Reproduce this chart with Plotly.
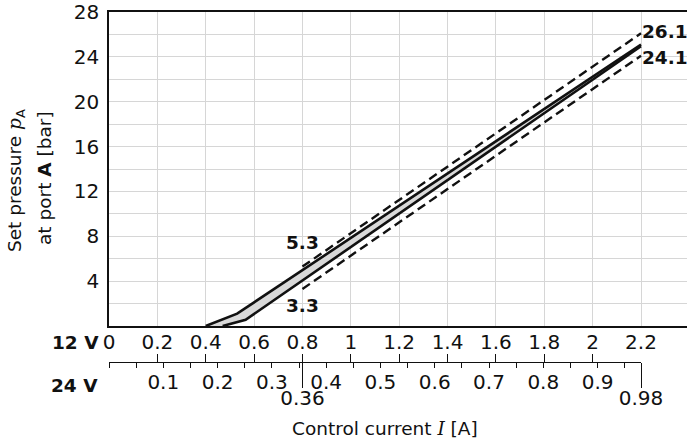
import plotly.graph_objects as go

# ---------------- data ----------------
x12_tickvals = [0, 0.2, 0.4, 0.6, 0.8, 1.0, 1.2, 1.4, 1.6, 1.8, 2.0, 2.2]
x12_ticktext = ["0", "0.2", "0.4", "0.6", "0.8", "1", "1.2", "1.4", "1.6", "1.8", "2", "2.2"]
x12_upticks = [0.2, 0.4, 0.6, 0.8, 1.0, 1.2, 1.4, 1.6, 1.8, 2.0, 2.2]
x24_tickvals = [0.1, 0.2, 0.3, 0.4, 0.5, 0.6, 0.7, 0.8, 0.9]
x24_ticktext = ["0.1", "0.2", "0.3", "0.4", "0.5", "0.6", "0.7", "0.8", "0.9"]
x24_minor_step = 0.05
x24_max = 0.98
long_tick_pos = [0.8, 2.2]
long_tick_text = ["0.36", "0.98"]
y_tickvals = [4, 8, 12, 16, 20, 24, 28]

band_upper_x = [0.40, 0.53, 2.2]
band_upper_y = [0.0, 1.1, 25.1]
band_lower_x = [0.47, 0.565, 2.2]
band_lower_y = [0.0, 0.55, 24.95]

tol_x = [0.8, 2.2]
tol_upper_y = [5.3, 26.1]
tol_lower_y = [3.3, 24.1]

# ---------------- geometry ----------------
W, H = 687, 442
L, T, R, B = 109, 12, 0, 0
PW, PH = W - L - R, H - T - B
px_per_A = 532 / 2.2
x_max = PW / px_per_A
main_y0 = (H - B - 326) / PH
scale_pos = (H - B - 361.7) / PH
sub_dom = 532 / PW

FONT = "DejaVu Sans"
BLACK = "#111111"
GRID = "#d6d6d6"

fig = go.Figure()

# grey band between the two characteristic lines
fig.add_trace(go.Scatter(
    x=band_upper_x + band_lower_x[::-1],
    y=band_upper_y + band_lower_y[::-1],
    fill="toself", fillcolor="#d9d9d9", mode="none",
    showlegend=False, hoverinfo="skip"))
fig.add_trace(go.Scatter(x=band_upper_x, y=band_upper_y, mode="lines",
                         line=dict(color=BLACK, width=2.6), showlegend=False))
fig.add_trace(go.Scatter(x=band_lower_x, y=band_lower_y, mode="lines",
                         line=dict(color=BLACK, width=2.6), showlegend=False))
fig.add_trace(go.Scatter(x=tol_x, y=tol_upper_y, mode="lines",
                         line=dict(color=BLACK, width=2.4, dash="9px,5px"),
                         showlegend=False))
fig.add_trace(go.Scatter(x=tol_x, y=tol_lower_y, mode="lines",
                         line=dict(color=BLACK, width=2.4, dash="9px,5px"),
                         showlegend=False))

# dummy traces so that the scale axes are drawn
for ax in ["x2", "x3", "x4"]:
    fig.add_trace(go.Scatter(x=[], y=[], xaxis=ax, yaxis="y2",
                             showlegend=False, hoverinfo="skip"))

tickfont = dict(family=FONT, size=20, color=BLACK)

fig.update_layout(
    width=W, height=H,
    margin=dict(l=L, r=R, t=T, b=B),
    paper_bgcolor="white", plot_bgcolor="white",
    showlegend=False,
    xaxis=dict(
        domain=[0, 1], range=[0, x_max], anchor="y",
        tickmode="array", tickvals=x12_tickvals, ticktext=x12_ticktext,
        ticks="", tickfont=tickfont, ticklabelstandoff=-3,
        showgrid=True, gridcolor=GRID, gridwidth=1,
        showline=True, linecolor=BLACK, linewidth=1.5, mirror=True,
        zeroline=False, automargin=False, ticklabeloverflow="allow"),
    yaxis=dict(
        domain=[main_y0, 1], range=[0, 28], anchor="x",
        tickmode="array", tickvals=y_tickvals,
        ticks="", tickfont=tickfont, ticklabelstandoff=4,
        showgrid=True, gridcolor=GRID, gridwidth=1,
        minor=dict(tick0=0, dtick=2, showgrid=True, gridcolor=GRID, gridwidth=1),
        showline=True, linecolor=BLACK, linewidth=1.5,
        zeroline=False, automargin=False, ticklabeloverflow="allow"),
    yaxis2=dict(domain=[0, 0.01], range=[0, 1], visible=False, anchor="x2"),
    # 12 V scale line with upward ticks
    xaxis2=dict(
        domain=[0, sub_dom], range=[0, 2.2], anchor="free", position=scale_pos,
        tickmode="array", tickvals=x12_upticks, ticks="inside", ticklen=8,
        tickwidth=1.3, tickcolor=BLACK, showticklabels=False,
        showline=True, linecolor=BLACK, linewidth=1.3,
        showgrid=False, zeroline=False, automargin=False),
    # 24 V scale with downward ticks
    xaxis3=dict(
        domain=[0, sub_dom], range=[0, x24_max], anchor="free", position=scale_pos,
        tickmode="array", tickvals=x24_tickvals, ticktext=x24_ticktext,
        ticks="outside", ticklen=5, tickwidth=1.3, tickcolor=BLACK,
        minor=dict(tickmode="linear", tick0=0, dtick=x24_minor_step,
                   ticks="outside", ticklen=5, tickwidth=1.3, tickcolor=BLACK,
                   showgrid=False),
        tickfont=tickfont, showline=False, ticklabelstandoff=-3,
        showgrid=False, zeroline=False, automargin=False),
    # long ticks at range limits
    xaxis4=dict(
        domain=[0, sub_dom], range=[0, 2.2], anchor="free", position=scale_pos,
        tickmode="array", tickvals=long_tick_pos, ticktext=long_tick_text,
        ticks="outside", ticklen=25, tickwidth=1.3, tickcolor=BLACK,
        tickfont=tickfont, showline=False, ticklabelstandoff=-7,
        showgrid=False, zeroline=False, automargin=False),
)

def py(ypx):
    return (H - B - ypx) / PH

def px(xpx):
    return (xpx - L) / PW

ann = []
bold = dict(family=FONT, size=18.5, color=BLACK)
title_font = dict(family=FONT, size=18.5, color=BLACK)
ann.append(dict(text="<b>12 V</b>", xref="paper", yref="paper", x=px(101), y=py(342),
                xanchor="right", yanchor="middle", showarrow=False, font=bold))
ann.append(dict(text="<b>24 V</b>", xref="paper", yref="paper", x=px(100), y=py(385),
                xanchor="right", yanchor="middle", showarrow=False, font=bold))
ann.append(dict(text="Control current <span style=\"font-family:'DejaVu Serif'\"><i>I</i></span> [A]",
                xref="paper", yref="paper", x=px(385), y=py(428),
                xanchor="center", yanchor="middle", showarrow=False, font=title_font))
ann.append(dict(text="Set pressure <span style=\"font-family:'DejaVu Serif'\"><i>p</i></span><sub>A</sub>",
                xref="paper", yref="paper", x=px(16), y=py(181), textangle=-90,
                xanchor="center", yanchor="middle", showarrow=False, font=title_font))
ann.append(dict(text="at port <b>A</b> [bar]",
                xref="paper", yref="paper", x=px(45), y=py(178), textangle=-90,
                xanchor="center", yanchor="middle", showarrow=False, font=title_font))
# value labels at tolerance line ends
ann.append(dict(text="<b>5.3</b>", x=tol_x[0], y=tol_upper_y[0], xref="x", yref="y",
                yshift=24, xanchor="center", yanchor="middle", showarrow=False, font=bold))
ann.append(dict(text="<b>3.3</b>", x=tol_x[0], y=tol_lower_y[0], xref="x", yref="y",
                yshift=-17, xanchor="center", yanchor="middle", showarrow=False, font=bold))
ann.append(dict(text="<b>26.1</b>", x=tol_x[1], y=tol_upper_y[1], xref="x", yref="y",
                xshift=-1, yshift=2, xanchor="left", yanchor="middle", showarrow=False, font=bold))
ann.append(dict(text="<b>24.1</b>", x=tol_x[1], y=tol_lower_y[1], xref="x", yref="y",
                xshift=-1, yshift=-2, xanchor="left", yanchor="middle", showarrow=False, font=bold))
fig.update_layout(annotations=ann)

# remove the default page margin so the figure sits at the window origin
fig.write_html("out.html", config={"displayModeBar": False},
               post_script="document.body.style.margin='0';")
